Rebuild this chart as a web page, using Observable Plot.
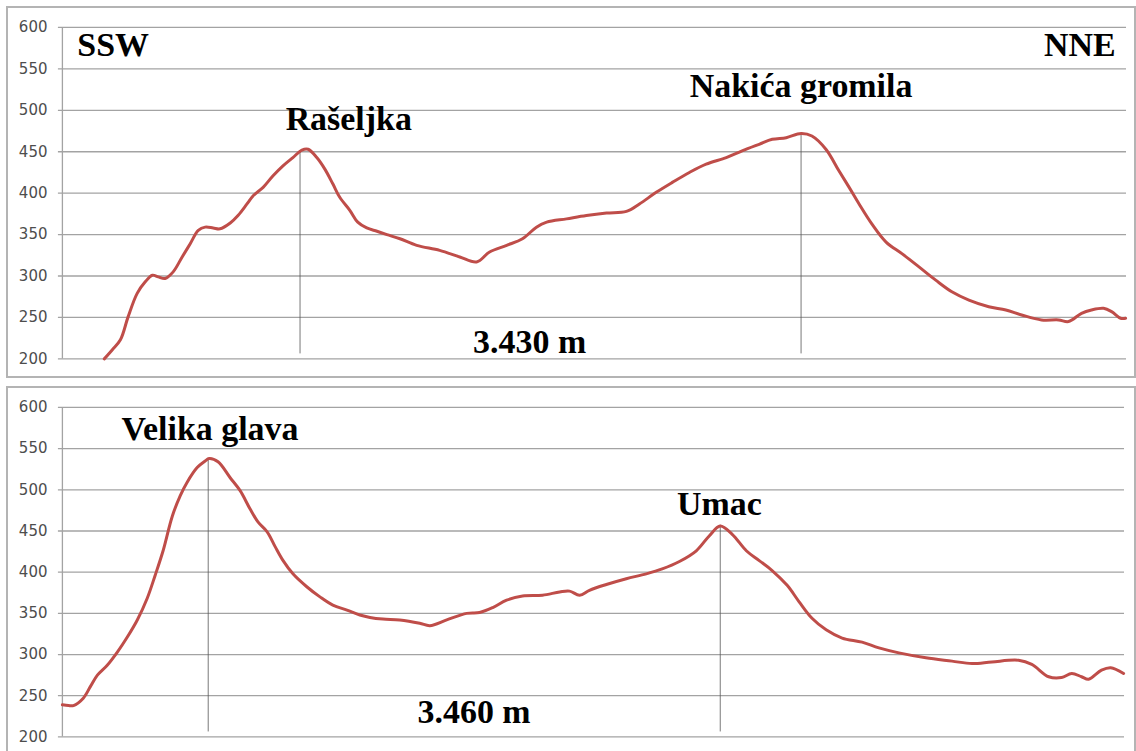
<!DOCTYPE html>
<html><head><meta charset="utf-8">
<script src="https://cdn.jsdelivr.net/npm/d3@7"></script>
<script src="https://cdn.jsdelivr.net/npm/@observablehq/plot@0.6"></script>
<style>
body{margin:0;background:#fff;width:1136px;height:751px;overflow:hidden;position:relative}
.panel{position:absolute;left:6px;border:2px solid #b4b4b4;background:#fff}
.panel svg{display:block}
</style></head><body>
<div id="top" class="panel" style="top:6px"></div>
<div id="bot" class="panel" style="top:386px"></div>
<script>
// Profile 1 (SSW -> NNE), distance in m, elevation in m
const topDist = [135,161,187,212,241,267,290,309,331,357,386,412,438,460,486,508,541,566,595,615,647,679,711,743,772,792,820,846,872,894,927,952,981,1014,1046,1088,1142,1216,1281,1335,1377,1432,1483,1528,1561,1625,1689,1754,1818,1860,1914,1966,2021,2075,2140,2191,2246,2288,2333,2381,2416,2461,2503,2536,2568,2609,2655,2706,2761,2815,2867,2922,2986,3041,3092,3156,3211,3243,3285,3317,3356,3382,3411,3427];
const topElev = [200,211,223,251,279,293,301,299,297,305,323,339,355,359,358,357,364,373,387,397,407,421,433,443,452,453,443,429,411,395,379,365,358,354,350,345,337,331,323,317,329,337,345,359,365,369,373,376,378,387,401,413,425,435,443,451,459,465,467,472,469,453,427,407,387,363,341,327,311,295,281,271,263,259,253,247,247,245,255,259,261,257,249,249];
const topLength = 3430;
const topPeakNames = ["Rašeljka", "Nakića gromila"];
const topPeakDist = [766, 2381];
const topPeakElev = [450, 472];

// Profile 2
const botDist = [0,20,36,68,91,114,146,179,211,244,276,302,328,358,384,406,439,465,478,507,546,579,611,637,667,693,719,751,797,839,881,927,969,1002,1044,1099,1164,1197,1252,1317,1359,1402,1447,1499,1564,1620,1652,1685,1717,1772,1837,1902,1954,2010,2065,2107,2143,2182,2228,2270,2312,2361,2400,2442,2488,2540,2605,2660,2725,2813,2898,2963,3028,3115,3158,3213,3255,3288,3320,3343,3385,3415,3457];
const botElev = [239,238,238,247,261,275,287,303,321,342,368,396,426,468,493,509,527,535,538,534,515,499,477,461,449,431,414,398,382,370,360,354,348,345,343,342,338,335,342,350,351,357,366,371,372,376,377,372,378,385,392,398,404,413,426,444,456,446,426,414,402,384,364,344,330,320,315,308,302,296,292,289,291,293,288,273,272,277,273,270,281,284,277];
const botLength = 3460;
const botPeakNames = ["Velika glava", "Umac"];
const botPeakDist = [475, 2143];
const botPeakElev = [538, 457];

const yTicks = [200, 250, 300, 350, 400, 450, 500, 550, 600];
const peakBase = 206;
const directions = ["SSW", "NNE"];

const serif = {fontFamily: "'Liberation Serif', 'Times New Roman', serif", fontWeight: "bold", fontSize: 34, fill: "#000", lineAnchor: "bottom"};

function panel(dist, elev, total, peakNames, peakDist, peakElev, labelPos, lengthPos, dirs, opts) {
  const data = dist.map((d, i) => ({d, v: elev[i]}));
  const peaks = peakNames.map((n, i) => ({name: n, d: peakDist[i], v: peakElev[i]}));
  const labels = peakNames.map((n, i) => ({name: n, d: labelPos[i][0], v: labelPos[i][1]}));
  const lengthLabel = [{name: (total/1000).toFixed(3) + " m", d: lengthPos[0], v: lengthPos[1]}];
  const marks = [
    Plot.ruleY(yTicks, {stroke: "#a3a3a3", strokeWidth: 1.3, insetLeft: -4}),
    Plot.ruleX([0], {stroke: "#a3a3a3", strokeWidth: 1.3}),
    Plot.text(yTicks, {y: d => d, text: d => String(d), frameAnchor: "left", dx: -15, textAnchor: "end",
      fontFamily: "Verdana, 'DejaVu Sans', sans-serif", fontSize: 15, fill: "#4d4d4d"}),
    Plot.ruleX(peaks, {x: "d", y1: peakBase, y2: "v", stroke: "#555", strokeWidth: 0.8}),
    Plot.line(data, {x: "d", y: "v", stroke: "#bf4d49", strokeWidth: 3, curve: "catmull-rom"}),
    Plot.text(labels, {x: "d", y: "v", text: "name", textAnchor: "middle", ...serif}),
    Plot.text(lengthLabel, {x: "d", y: "v", text: "name", textAnchor: "middle", ...serif})
  ];
  if (dirs) {
    marks.push(Plot.text([dirs[0]], {x: dirs[2][0], y: dirs[2][1], text: d => d, textAnchor: "start", ...serif}));
    marks.push(Plot.text([dirs[1]], {x: dirs[3][0], y: dirs[3][1], text: d => d, textAnchor: "end", ...serif}));
  }
  return Plot.plot({
    width: 1128, height: opts.height,
    marginLeft: 54, marginRight: opts.mr, marginTop: 19, marginBottom: opts.mb,
    x: {domain: [0, total], axis: null},
    y: {domain: [200, 600], axis: null},
    style: {background: "#fff", overflow: "visible"},
    marks
  });
}

document.getElementById("top").appendChild(
  panel(topDist, topElev, topLength, topPeakNames, topPeakDist, topPeakElev,
    [[923, 476], [2381, 516]], [1506, 207],
    [directions[0], directions[1], [48, 565], [3395, 566]],
    {height: 369, mr: 8, mb: 18})
);
document.getElementById("bot").appendChild(
  panel(botDist, botElev, botLength, botPeakNames, botPeakDist, botPeakElev,
    [[481, 560], [2140, 469]], [1341, 217],
    null,
    {height: 370, mr: 10, mb: 21})
);
</script>
</body></html>
